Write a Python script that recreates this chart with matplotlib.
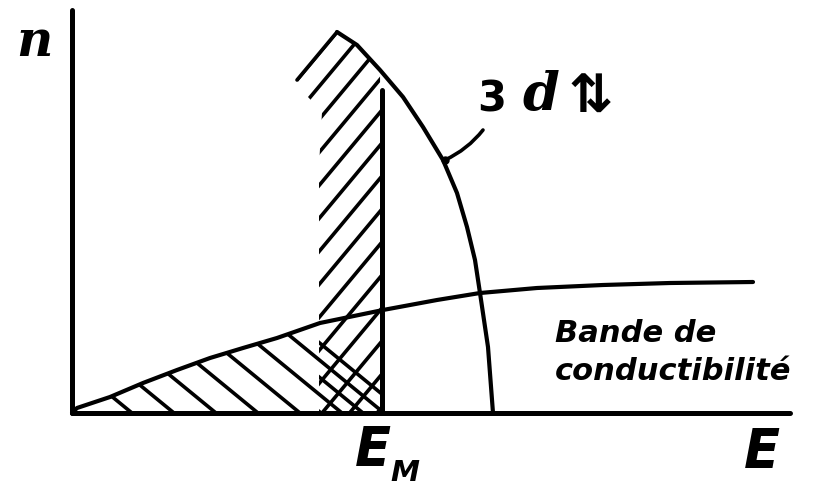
import numpy as np
import matplotlib
matplotlib.use("Agg")
import matplotlib.pyplot as plt
from matplotlib.patches import Polygon

# conduction band n(E) (arbitrary units)
cond_E = [0, 5, 38, 71, 105, 138, 171, 205, 248, 311, 365, 408, 465, 531, 598, 681]
cond_n = [0, 5, 16, 30, 43, 55, 65, 75, 90, 103, 113, 120, 125, 128, 130, 131]

# 3d band: outer curve from the top corner down to the E axis
d_E = [265, 285, 308, 331, 351, 371, 385, 395, 403, 408, 416, 421]
d_n = [381, 368, 343, 316, 286, 253, 220, 186, 153, 120, 66, 0]
# left edge of the filled part of the 3d band (bottom to top corner)
d_left_E = [247, 247, 250, 236, 225]
d_left_n = [0, 246, 301, 316, 333]

E_M = 310          # Fermi level
E_M_top = 323      # height of the E_M line

fig = plt.figure(figsize=(8.15, 4.88), dpi=100)
ax = fig.add_axes([72 / 815, 75 / 488, 718 / 815, 403 / 488])
ax.set_xlim(0, 718)
ax.set_ylim(0, 403)
ax.set_xticks([])
ax.set_yticks([])
for s in ["top", "right"]:
    ax.spines[s].set_visible(False)
for s in ["left", "bottom"]:
    ax.spines[s].set_linewidth(3.6)
    ax.spines[s].set_capstyle("round")

# occupied regions (E < E_M) used to clip the hatch lines
n_d_at_EM = np.interp(-E_M, [-e for e in d_E], d_n)
d_poly = list(zip(d_left_E, d_left_n))
d_poly += [(e, n) for e, n in zip(d_E, d_n) if e < E_M]
d_poly += [(E_M, n_d_at_EM), (E_M, 0)]
d_patch = Polygon(d_poly, closed=True, fill=False, edgecolor="none", transform=ax.transData)
ax.add_patch(d_patch)

n_c_at_EM = np.interp(E_M, cond_E, cond_n)
c_poly = [(e, n) for e, n in zip(cond_E, cond_n) if e < E_M]
c_poly += [(E_M, n_c_at_EM), (E_M, 0)]
c_patch = Polygon(c_poly, closed=True, fill=False, edgecolor="none", transform=ax.transData)
ax.add_patch(c_patch)

# overlap of both bands: cross-hatched
e0 = d_left_E[0]
x_poly = [(e0, np.interp(e0, cond_E, cond_n))]
x_poly += [(e, n) for e, n in zip(cond_E, cond_n) if e0 < e < E_M]
x_poly += [(E_M, n_c_at_EM), (E_M, 0), (e0, 0)]
x_patch = Polygon(x_poly, closed=True, fill=False, edgecolor="none", transform=ax.transData)
ax.add_patch(x_patch)

hatch_kw = dict(color="black", lw=2.6, solid_capstyle="round")

# "/" hatching of the occupied 3d states
xs = np.array([-100, 800])
for c in np.arange(-52.5, E_M + 1, 27.5):
    ln, = ax.plot(xs, 1.2 * (xs - c), **hatch_kw)
    ln.set_clip_path(d_patch)

# "\" hatching of the occupied conduction states
for c in np.arange(60, E_M + 30, 42):
    ln, = ax.plot(xs, -0.82 * (xs - c), **hatch_kw)
    ln.set_clip_path(c_patch)
for c in np.arange(81, E_M + 60, 42):
    ln, = ax.plot(xs, -0.82 * (xs - c), **hatch_kw)
    ln.set_clip_path(x_patch)

# curves
ax.plot(cond_E, cond_n, color="black", lw=3, solid_capstyle="round", clip_on=False)
ax.plot(d_E, d_n, color="black", lw=3, solid_capstyle="round", solid_joinstyle="round",
        clip_on=False)
ax.plot([d_left_E[-1], d_E[0]], [d_left_n[-1], d_n[0]], **hatch_kw)
ax.plot([E_M, E_M], [0, E_M_top], color="black", lw=3.6, solid_capstyle="round")

# leader line for the 3d label
ax.plot(d_E[5] + 2, d_n[5], "o", color="black", ms=5)
ax.annotate("", xy=(d_E[5] + 2, d_n[5]), xytext=(411, 283),
            arrowprops=dict(arrowstyle="-", lw=2.6, connectionstyle="arc3,rad=-0.12",
                            shrinkA=0, shrinkB=0))

# labels
ax.text(-38, 371, "n", family="DejaVu Serif", style="italic", weight="bold",
        fontsize=36, ha="center", va="center")
ax.text(420, 314, "3", family="DejaVu Sans", weight="bold", fontsize=30,
        ha="center", va="center")
ax.text(469, 318, "d", family="DejaVu Serif", style="italic", weight="bold", fontsize=38,
        ha="center", va="center")
ax.text(519, 315, "⇅", family="DejaVu Sans", weight="bold", fontsize=38,
        ha="center", va="center")
ax.text(483, 80, "Bande de", family="DejaVu Sans", style="italic", weight="bold",
        fontsize=22, ha="left", va="center")
ax.text(483, 41, "conductibilité", family="DejaVu Sans", style="italic", weight="bold",
        fontsize=22, ha="left", va="center")
ax.text(301, -37, "E", family="DejaVu Sans", style="italic", weight="heavy",
        fontsize=38, ha="center", va="center", clip_on=False)
ax.text(333, -60, "M", family="DejaVu Sans", style="italic", weight="heavy",
        fontsize=21, ha="center", va="center", clip_on=False)
ax.text(690, -39, "E", family="DejaVu Sans", style="italic", weight="heavy",
        fontsize=38, ha="center", va="center", clip_on=False)

fig.savefig("out.png", dpi=100)
